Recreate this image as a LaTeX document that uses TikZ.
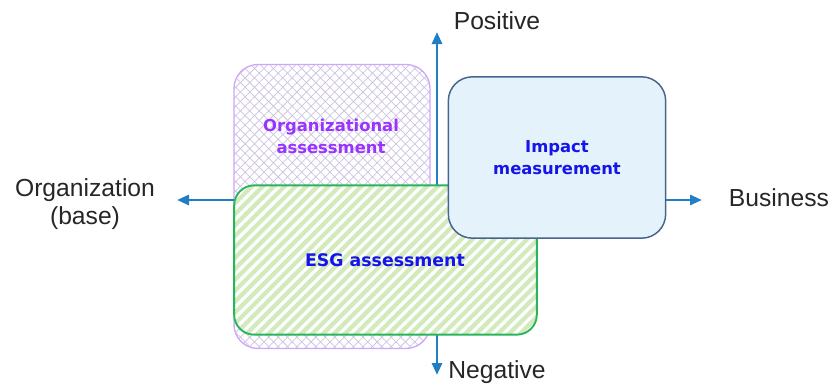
\documentclass[tikz,border=0pt]{standalone}
\usepackage{fontspec}
\setmainfont{Liberation Sans}
\newfontfamily\boxfont{DejaVu Sans}
\usetikzlibrary{arrows.meta,patterns.meta}

\definecolor{axisblue}{RGB}{31,126,196}
\definecolor{orgline}{RGB}{206,165,255}
\definecolor{orghatch}{RGB}{205,196,226}
\definecolor{orgtext}{RGB}{153,51,255}
\definecolor{esgline}{RGB}{40,180,90}
\definecolor{esgfill}{RGB}{210,234,188}
\definecolor{impline}{RGB}{72,100,140}
\definecolor{impfill}{RGB}{228,243,251}
\definecolor{boxtext}{RGB}{20,20,235}

\tikzset{
  axis/.style={axisblue, line width=2.1pt, -{Triangle[length=9pt,width=7.5pt]}},
  axlabel/.style={font=\fontsize{18.5}{21}\selectfont, align=center, text=black!85},
  boxlabel/.style={font=\boxfont\bfseries\fontsize{12.3}{16.5}\selectfont, align=center},
  orgbox/.style={draw=orgline, line width=1pt, rounded corners=18pt, inner sep=0pt,
    minimum width=147pt, minimum height=213pt,
    preaction={fill=white},
    pattern={Lines[angle=45,distance=5pt,line width=0.55pt]}, pattern color=orghatch,
    postaction={pattern={Lines[angle=-45,distance=5pt,line width=0.55pt]}, pattern color=orghatch}},
  esgbox/.style={draw=esgline, line width=1.4pt, rounded corners=15pt, inner sep=0pt,
    minimum width=227pt, minimum height=112pt,
    preaction={fill=esgfill},
    pattern={Lines[angle=45,distance=5.8pt,line width=2.4pt]}, pattern color=white},
  impbox/.style={draw=impline, line width=1.1pt, rounded corners=18pt, inner sep=0pt,
    minimum width=163pt, minimum height=121pt,
    preaction={fill=impfill},
    pattern={Dots[distance=6pt,radius=0.5pt]}, pattern color=white}
}

\begin{document}
\begin{tikzpicture}[x=0.75pt,y=-0.75pt]
  \useasboundingbox (0,0) rectangle (832,389);

  % organizational assessment, at the back
  \node[orgbox] (org) at (332,206.5) {};

  % axes
  \coordinate (o) at (437,200);
  \coordinate (up) at (437,32);
  \coordinate (down) at (437,375);
  \coordinate (left) at (177,200);
  \coordinate (right) at (702,200);
  \draw[axis] (o) -- (up);
  \draw[axis] (o) -- (down);
  \draw[axis] (o) -- (left);
  \draw[axis] (o) -- (right);

  % the other two boxes
  \node[esgbox] (esg) at (385.5,260) {};
  \node[impbox] (imp) at (557,157.5) {};

  % box texts
  \node[boxlabel, text=orgtext] (orgtxt) at (331,136) {Organizational\\assessment};
  \node[boxlabel, text=boxtext, font=\boxfont\bfseries\fontsize{13}{16.5}\selectfont] (esgtxt) at (385,260) {ESG assessment};
  \node[boxlabel, text=boxtext] (imptxt) at (557,158) {Impact\\measurement};

  % axis labels
  \node[axlabel] (pos) at (497,21) {Positive};
  \node[axlabel] (neg) at (497,372) {Negative};
  \node[axlabel] (base) at (85,204) {Organization\\(base)};
  \node[axlabel] (bus) at (779,198) {Business};
\end{tikzpicture}
\end{document}
